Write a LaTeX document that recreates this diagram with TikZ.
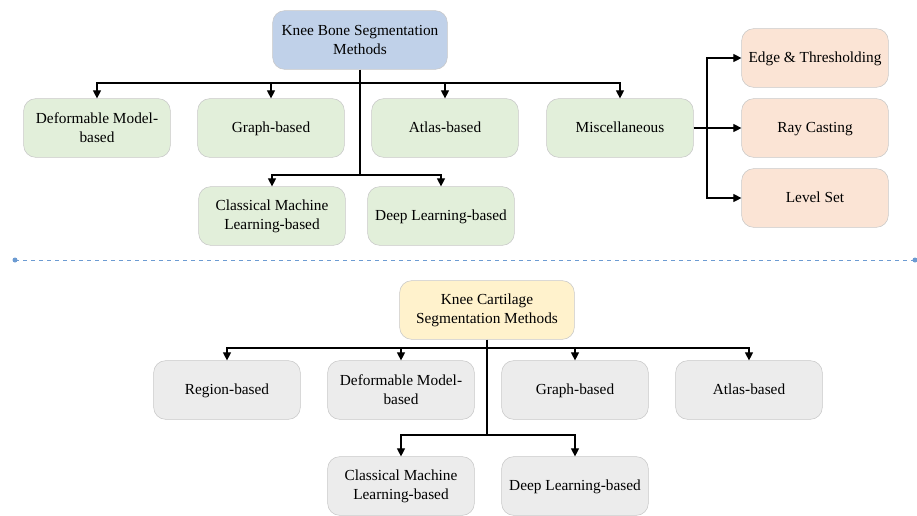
\documentclass[tikz,border=0pt]{standalone}
\usepackage{fontspec}
\setmainfont{Liberation Serif}
\usetikzlibrary{arrows.meta}
\definecolor{bonefill}{RGB}{192,209,233}
\definecolor{greenfill}{RGB}{226,239,218}
\definecolor{peachfill}{RGB}{251,228,213}
\definecolor{yellowfill}{RGB}{255,242,204}
\definecolor{grayfill}{RGB}{236,236,236}
\definecolor{edgegray}{RGB}{200,200,200}
\definecolor{sepblue}{RGB}{108,155,210}
\tikzset{
  box/.style={draw=edgegray, rounded corners=9pt, align=center,
    minimum width=110pt, minimum height=44pt, inner sep=2pt,
    font=\fontsize{11.5}{14}\selectfont},
  onebox/.style={box, text height=0.68em, text depth=0pt},
  rootbox/.style={box, minimum width=131pt},
  arr/.style={-{Triangle[length=6pt,width=6pt]}, thick}
}
\begin{document}
\begin{tikzpicture}[x=0.75pt,y=-0.75pt]
  \useasboundingbox (0,0) rectangle (917,515);
  % bone part
  \node[rootbox, fill=bonefill] (bone) at (360,40) {Knee Bone Segmentation\\Methods};
  \node[box, fill=greenfill] (bdef) at (97,128) {Deformable Model-\\based};
  \node[onebox, fill=greenfill] (bgraph) at (271,128) {Graph-based};
  \node[onebox, fill=greenfill] (batlas) at (445,128) {Atlas-based};
  \node[onebox, fill=greenfill] (bmisc) at (620,128) {Miscellaneous};
  \node[box, fill=greenfill] (bcml) at (272,216) {Classical Machine\\Learning-based};
  \node[onebox, fill=greenfill] (bdl) at (441,216) {Deep Learning-based};
  \node[onebox, fill=peachfill] (edge) at (815,58) {Edge \& Thresholding};
  \node[onebox, fill=peachfill] (ray) at (815,128) {Ray Casting};
  \node[onebox, fill=peachfill] (level) at (815,198) {Level Set};
  \coordinate (btop) at (360,83);
  \coordinate (bmid) at (360,175);
  \draw[thick] (bone.south) -- (bmid);
  \foreach \n in {bdef, bgraph, batlas, bmisc}
    \draw[arr] (btop) -| (\n.north);
  \foreach \n in {bcml, bdl}
    \draw[arr] (bmid) -| (\n.north);
  \coordinate (mfork) at (707,128);
  \draw[thick] (bmisc.east) -- (mfork);
  \foreach \n in {edge, ray, level}
    \draw[arr] (mfork) |- (\n.west);
  % separator
  \coordinate (sepl) at (15,260);
  \coordinate (sepr) at (915,260);
  \draw[sepblue, dashed, semithick] (sepl) -- (sepr);
  \fill[sepblue] (sepl) circle (2.5);
  \fill[sepblue] (sepr) circle (2.5);
  % cartilage part
  \node[rootbox, fill=yellowfill] (cart) at (487,310) {Knee Cartilage\\Segmentation Methods};
  \node[onebox, fill=grayfill] (creg) at (227,390) {Region-based};
  \node[box, fill=grayfill] (cdef) at (401,390) {Deformable Model-\\based};
  \node[onebox, fill=grayfill] (cgraph) at (575,390) {Graph-based};
  \node[onebox, fill=grayfill] (catlas) at (749,390) {Atlas-based};
  \node[box, fill=grayfill] (ccml) at (401,486) {Classical Machine\\Learning-based};
  \node[onebox, fill=grayfill] (cdl) at (575,486) {Deep Learning-based};
  \coordinate (ctop) at (487,348);
  \coordinate (cmid) at (487,435);
  \draw[thick] (cart.south) -- (cmid);
  \foreach \n in {creg, cdef, cgraph, catlas}
    \draw[arr] (ctop) -| (\n.north);
  \foreach \n in {ccml, cdl}
    \draw[arr] (cmid) -| (\n.north);
\end{tikzpicture}
\end{document}
